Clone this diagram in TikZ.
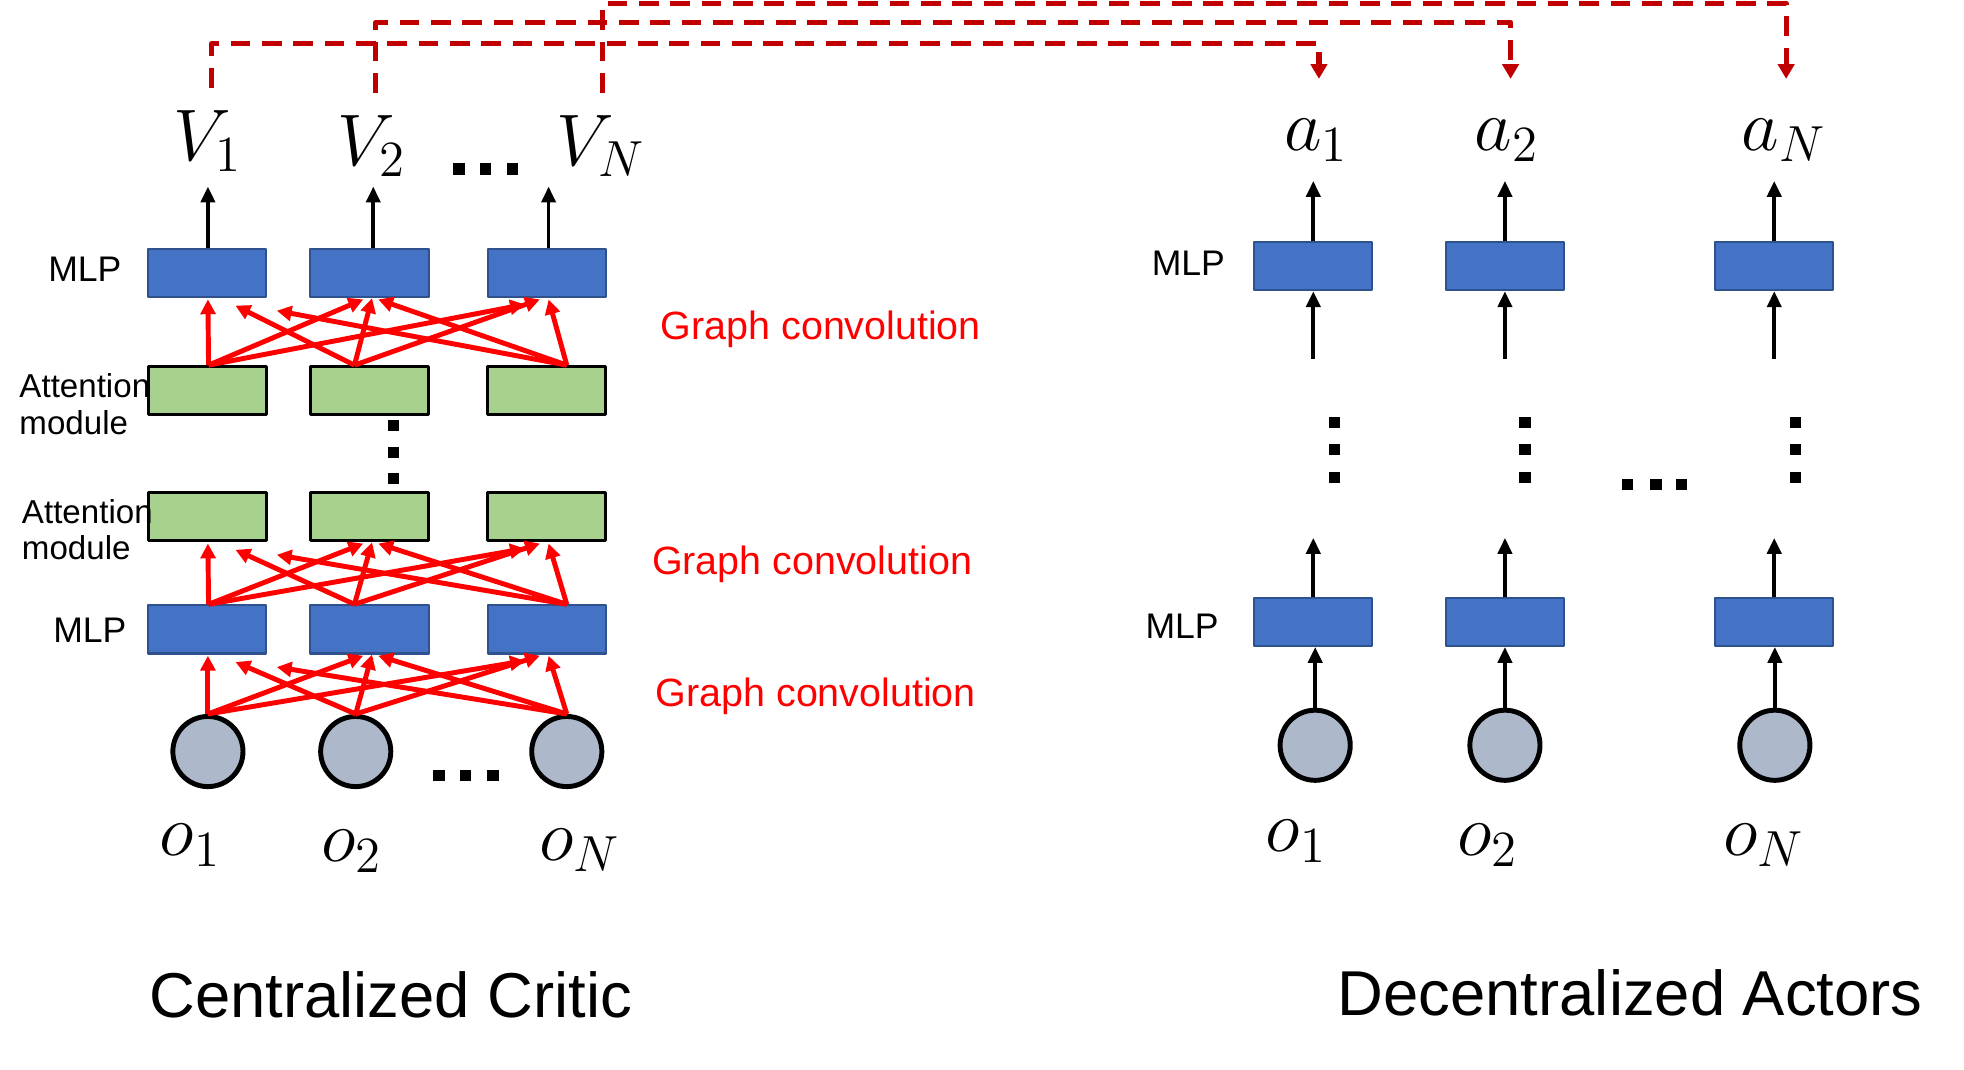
\documentclass[tikz,border=0pt]{standalone}
\usepackage{fontspec}
\setmainfont{Liberation Sans}
\usetikzlibrary{arrows.meta,calc}

\definecolor{mlpblue}{HTML}{4472C4}
\definecolor{mlpedge}{HTML}{2F528F}
\definecolor{attgreen}{HTML}{A9D18E}
\definecolor{obsgray}{HTML}{ADB9CA}
\definecolor{linkred}{HTML}{C00000}

\tikzset{
  mlpbox/.style={draw=mlpedge,line width=0.6pt,fill=mlpblue,minimum width=11.8mm,minimum height=4.8mm,inner sep=0pt},
  attbox/.style={draw=black,line width=0.9pt,fill=attgreen,minimum width=11.8mm,minimum height=4.8mm,inner sep=0pt},
  obsnode/.style={circle,draw=black,line width=1.4pt,fill=obsgray,minimum size=7mm,inner sep=0pt},
  gconv/.style={red,line width=1.4pt,-{Triangle[length=4.2pt,width=4.2pt]}},
  flow/.style={black,line width=1.05pt,-{Triangle[length=4.5pt,width=4pt]}},
  tolink/.style={linkred,line width=1.5pt,dash pattern=on 5.6pt off 3.3pt,-{Triangle[length=4.2pt,width=4.6pt]}},
  mathlbl/.style={inner sep=0pt,font=\fontsize{20.74}{25}\selectfont},
  gclabel/.style={red,inner sep=0pt,anchor=base west,font=\fontsize{11.2}{13}\selectfont},
  lyrlabel/.style={inner sep=0pt,anchor=base west,font=\fontsize{10.1}{12}\selectfont},
  attlabel/.style={inner sep=0pt,anchor=north west,align=left,font=\fontsize{9.4}{10.3}\selectfont},
  title/.style={inner sep=0pt,anchor=base,font=\fontsize{18}{22}\selectfont}
}

\begin{document}
\begin{tikzpicture}[x=0.125mm,y=-0.125mm,line join=round]
\useasboundingbox (0,0) rectangle (1568,854);

%% centralized critic
\foreach \i/\x in {1/165.5,2/295,3/436.5}{
  \node[mlpbox] (ct\i) at (\x,218) {};
  \node[attbox] (cb\i) at (\x,312) {};
  \node[attbox] (ca\i) at (\x,412.5) {};
  \node[mlpbox] (cm\i) at (\x,502.5) {};
}
\node[obsnode] (co1) at (166,600) {};
\node[obsnode] (co2) at (284,600) {};
\node[obsnode] (co3) at (452.5,600) {};

\foreach \i in {1,2,3} \coordinate (co\i-out) at (co\i.north);
\foreach \r in {cm,cb} \foreach \i/\d in {1/1,2/-12,3/16} \coordinate (\r\i-out) at ($(\r\i.north)+(\d,0)$);

% graph convolution, every agent to every agent
\foreach \lo/\up in {co/cm,cm/ca,cb/ct}
  \foreach \s/\t/\dx/\dy in {1/1/0.5/1,2/1/22.5/6,3/1/55.5/10,1/2/-5/1,2/2/2/0,3/2/7/1,1/3/-17.5/5,2/3/-5.5/1,3/3/1.5/1}
    \draw[gconv] (\lo\s-out) -- ($(\up\t.south)+(\dx,\dy)$);

\foreach \i/\d in {1/0.5,2/3,3/1.5} \draw[flow] ($(ct\i.north)+(\d,0)$) -- ++(0,-49);

\node[mathlbl,anchor=base] (V1) at (166,128) {$V_1$};
\node[mathlbl,anchor=base] (V2) at (297,132) {$V_2$};
\node[mathlbl,anchor=base] (VN) at (480,132) {$V_N$};

\node[mathlbl,anchor=base] (co1l) at (152,683) {$o_1$};
\node[mathlbl,anchor=base] (co2l) at (281,688) {$o_2$};
\node[mathlbl,anchor=base] (co3l) at (463,687) {$o_N$};

\node[lyrlabel] (ctl) at (38,225) {MLP};
\node[lyrlabel] (cml) at (42,513) {MLP};
\node[attlabel] (cbl) at (15,298) {Attention\\module};
\node[attlabel] (cal) at (17,398) {Attention\\module};

\node[gclabel] (gc1) at (527,271) {Graph convolution};
\node[gclabel] (gc2) at (520,459) {Graph convolution};
\node[gclabel] (gc3) at (523,564) {Graph convolution};

% dots
\foreach \x/\y in {366.5/135,387.5/135,409/135,350.5/619,371.5/619,393.5/619,314/339.5,314/361,314/382}
  \fill (\x-4.5,\y-4.5) rectangle ++(9,9);

%% decentralized actors
\foreach \i/\x in {1/1048.5,2/1201.5,3/1416.5}{
  \node[mlpbox] (at\i) at (\x,212.5) {};
  \node[mlpbox] (am\i) at (\x,496.5) {};
}
\node[obsnode] (ao1) at (1050,595) {};
\node[obsnode] (ao2) at (1201.5,595) {};
\node[obsnode] (ao3) at (1417,595) {};

\foreach \i in {1,2,3}{
  \draw[flow] (at\i.north) -- ++(0,-48);
  \draw[flow] ($(at\i.south)+(0,54)$) -- (at\i.south);
  \draw[flow] (am\i.north) -- ++(0,-47);
  \draw[flow] (ao\i.north) -- (ao\i.north |- am\i.south);
}

\node[mathlbl,anchor=base] (a1) at (1051,120) {$a_1$};
\node[mathlbl,anchor=base] (a2) at (1203,120) {$a_2$};
\node[mathlbl,anchor=base] (aN) at (1424,120) {$a_N$};

\node[mathlbl,anchor=base] (ao1l) at (1035,680) {$o_1$};
\node[mathlbl,anchor=base] (ao2l) at (1188,683) {$o_2$};
\node[mathlbl,anchor=base] (ao3l) at (1408,683) {$o_N$};

\node[lyrlabel] (atl) at (919,220) {MLP};
\node[lyrlabel] (aml) at (914,510) {MLP};

\foreach \x/\y in {1065.5/337.5,1065.5/359,1065.5/381,1217.5/337.5,1217.5/359,1217.5/381,1433.5/337.5,1433.5/359,1433.5/381,1299.5/387,1322/387,1342.5/387}
  \fill (\x-4.5,\y-4.5) rectangle ++(9,9);

%% critic values sent to the actors
\coordinate (v1d) at (169,70);
\coordinate (v2d) at (300,74);
\coordinate (vNd) at (481,74);
\coordinate (a1d) at (1053,63);
\coordinate (a2d) at (1206,63);
\coordinate (aNd) at (1426,63);
\draw[tolink] (v1d) -- ++(0,-35) -| (a1d);
\draw[tolink] (v2d) -- ++(0,-56) -| (a2d);
\draw[tolink] (vNd) -- ++(0,-71) -| (aNd);

\node[title] (crit) at (312,812) {Centralized Critic};
\node[title] (act) at (1301.5,811) {Decentralized Actors};
\end{tikzpicture}
\end{document}
